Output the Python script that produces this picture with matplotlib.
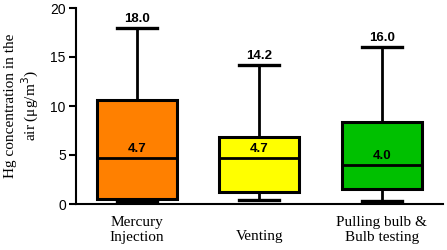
import matplotlib
matplotlib.use("Agg")
import matplotlib.pyplot as plt
from matplotlib.transforms import blended_transform_factory

# box statistics (ug/m3)
groups = ["Mercury\nInjection", "Venting", "Pulling bulb &\nBulb testing"]
whislo = [0.3, 0.4, 0.35]
q1 = [0.55, 1.25, 1.5]
med = [4.7, 4.7, 4.0]
q3 = [10.6, 6.8, 8.4]
whishi = [18.0, 14.2, 16.0]
colors = ["#FF8000", "#FFFF00", "#00C000"]

fig = plt.figure(figsize=(4.47, 2.5), dpi=100)
ax = fig.add_axes([0.169, 0.184, 0.822, 0.784])

stats = []
for i in range(len(groups)):
    stats.append(dict(whislo=whislo[i], q1=q1[i], med=med[i], q3=q3[i], whishi=whishi[i], fliers=[]))

bp = ax.bxp(stats, positions=[1, 2, 3], widths=0.65, patch_artist=True, showfliers=False,
            boxprops=dict(linewidth=2.2, edgecolor="black"),
            medianprops=dict(color="black", linewidth=2.0),
            whiskerprops=dict(color="black", linewidth=2.0),
            capprops=dict(color="black", linewidth=2.4),
            capwidths=0.33)
for patch, c in zip(bp["boxes"], colors):
    patch.set_facecolor(c)

for i in range(len(groups)):
    ax.text(i + 1, whishi[i] + 0.3, f"{whishi[i]:.1f}", ha="center", va="bottom",
            fontsize=9.5, fontweight="bold", family="Liberation Sans")
    ax.text(i + 1, med[i] + 0.25, f"{med[i]:.1f}", ha="center", va="bottom",
            fontsize=9.5, fontweight="bold", family="Liberation Sans")

ax.set_xlim(0.5, 3.5)
ax.set_ylim(0, 20)
ax.set_yticks([0, 5, 10, 15, 20])
ax.tick_params(axis="y", length=5, width=1.5, pad=2, labelsize=10)
for lab in ax.get_yticklabels():
    lab.set_family("Liberation Sans")
ax.set_xticks([])

trans = blended_transform_factory(ax.transData, ax.transAxes)
label_y = [-0.06, -0.135, -0.06]
for i, g in enumerate(groups):
    ax.text(i + 1, label_y[i], g, transform=trans, ha="center", va="top",
            fontsize=11, family="Liberation Serif", linespacing=1.2)

for s in ["top", "right"]:
    ax.spines[s].set_visible(False)
for s in ["left", "bottom"]:
    ax.spines[s].set_linewidth(1.5)

fig.text(0.05, 0.576, "Hg concentration in the\nair (\u03bcg/m$^3$)", rotation=90,
         ha="center", va="center", fontsize=11, family="Liberation Serif", linespacing=1.15)

fig.savefig("out.png", dpi=100)
